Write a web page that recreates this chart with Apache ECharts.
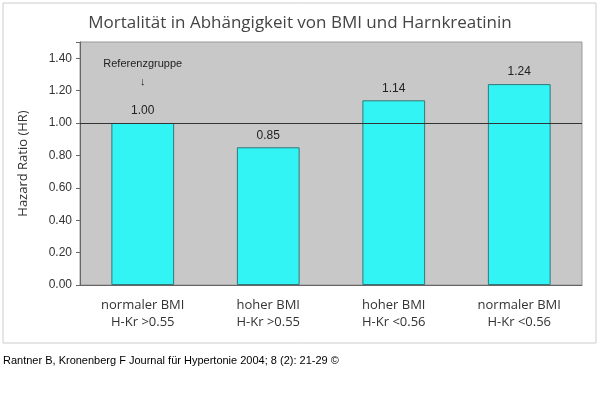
<!DOCTYPE html>
<html><head><meta charset="utf-8">
<script src="https://cdn.jsdelivr.net/npm/echarts@6/dist/echarts.min.js"></script>
<style>html,body{margin:0;padding:0;background:#fff}#c{width:600px;height:411px}</style>
</head><body><div id="c"></div>
<script>
const categories = ["normaler BMI\nH-Kr >0.55", "hoher BMI\nH-Kr >0.55", "hoher BMI\nH-Kr <0.56", "normaler BMI\nH-Kr <0.56"];
const hazardRatios = [1.00, 0.85, 1.14, 1.24];
const yTicks = [0, 0.2, 0.4, 0.6, 0.8, 1.0, 1.2, 1.4];

const chart = echarts.init(document.getElementById('c'));
chart.setOption({
  animation: false,
  backgroundColor: '#fff',
  title: { text: 'Mortalität in Abhängigkeit von BMI und Harnkreatinin', left: 'center', top: 10,
    textStyle: { fontFamily: 'Open Sans', fontWeight: 'normal', fontSize: 17, color: '#444' } },
  graphic: [
    { type: 'rect', shape: { x: 3, y: 3, width: 593, height: 340 }, style: { fill: 'none', stroke: '#ccc', lineWidth: 1 }, z: -10 },
    { type: 'text', left: 3, top: 355, style: { text: 'Rantner B, Kronenberg F Journal für Hypertonie 2004; 8 (2): 21-29 ©', fontSize: 11, fontFamily: 'Liberation Sans', fill: '#000' } }
  ],
  grid: { left: 80, right: 18, top: 42, bottom: 126, show: true, backgroundColor: '#c8c8c8', borderColor: '#999' },
  xAxis: { type: 'category', data: categories, axisTick: { show: false },
    axisLine: { lineStyle: { color: '#666' } },
    axisLabel: { fontFamily: 'Open Sans', fontSize: 13, color: '#333', lineHeight: 17, margin: 12 } },
  yAxis: { type: 'value', min: 0, max: 1.5, interval: 0.2, splitLine: { show: false },
    name: 'Hazard Ratio (HR)', nameLocation: 'middle', nameGap: 50,
    nameTextStyle: { fontFamily: 'Open Sans', fontSize: 13, color: '#333' },
    axisLine: { show: true, lineStyle: { color: '#666' } }, axisTick: { show: true, length: 4 },
    axisLabel: { fontFamily: 'Liberation Sans', fontSize: 12, color: '#333',
      formatter: v => yTicks.some(t => Math.abs(t - v) < 1e-6) ? v.toFixed(2) : '' } },
  series: [{
    type: 'bar', data: hazardRatios, barWidth: '50%',
    itemStyle: { color: '#33f4f4', borderColor: '#337777', borderWidth: 1 },
    label: { show: true, position: 'top', formatter: p => p.value.toFixed(2),
      fontFamily: 'Liberation Sans', fontSize: 12, color: '#222', distance: 6 },
    markLine: { symbol: 'none', silent: true, label: { show: false },
      lineStyle: { color: '#333', type: 'solid', width: 1 }, data: [{ yAxis: 1.0 }] },
    markPoint: { symbol: 'circle', symbolSize: 1, itemStyle: { color: 'rgba(0,0,0,0)' },
      label: { show: true, position: 'inside', formatter: 'Referenzgruppe\n↓', fontFamily: 'Liberation Sans', fontSize: 11, color: '#222', lineHeight: 18, fontWeight: 'normal' },
      data: [{ coord: [0, 1.31] }] }
  }]
});
</script></body></html>
